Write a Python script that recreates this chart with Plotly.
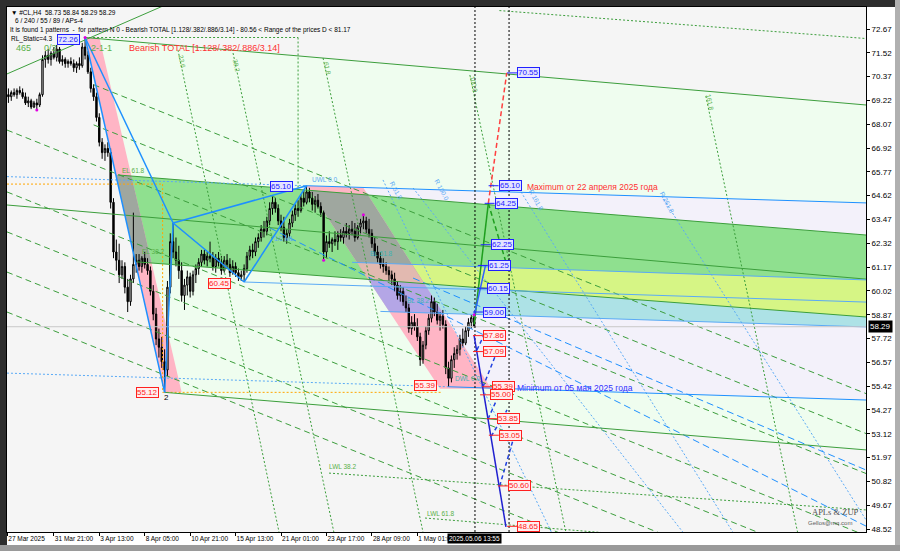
import plotly.graph_objects as go

# ---------------- candles (H4 bars, index 0 = first visible bar) ----------------
O = [69.5,69.4,69.6,69.5,69.7,69.6,69.4,69.1,69.2,68.9,
     69.1,69.0,69.5,71.2,71.4,71.2,71.5,71.3,71.7,71.1,
     71.2,71.0,71.1,71.0,70.8,71.0,70.9,71.8,71.4,70.6,
     69.8,69.4,68.4,67.2,66.7,66.9,66.7,64.3,61.9,61.5,
     60.8,61.2,60.2,59.5,60.6,61.3,61.5,61.2,61.6,61.3,
     61.0,60.0,58.9,57.7,57.3,56.6,56.2,60.2,62.4,61.9,
     61.5,61.0,59.8,60.3,60.7,60.0,60.8,61.1,61.4,61.8,
     61.5,61.7,61.6,61.2,61.6,61.4,61.0,61.5,61.3,60.9,
     61.2,60.9,60.7,60.8,61.1,61.7,62.0,61.9,62.4,62.6,
     63.0,62.9,63.4,64.0,64.3,64.0,63.4,63.1,62.6,62.8,
     63.3,63.7,64.0,63.9,64.5,64.3,64.8,64.5,64.2,64.4,
     64.1,63.8,61.9,62.4,62.3,62.5,62.4,62.7,62.6,62.9,
     62.8,63.0,62.9,62.6,63.1,63.3,63.4,63.0,62.8,62.3,
     61.9,61.6,61.3,61.2,61.0,60.8,60.6,60.3,59.8,60.0,
     59.5,59.2,58.2,58.5,58.3,57.8,56.7,57.4,58.1,58.7,
     59.5,59.0,58.6,58.8,58.4,56.3,55.8,56.7,57.0,57.2,
     57.7,57.5,58.1,58.5,58.73]
H = [69.8,69.7,69.8,69.8,69.9,69.8,69.6,69.4,69.3,69.2,
     69.3,69.6,71.4,71.6,71.7,71.6,71.8,71.9,71.8,71.4,
     71.3,71.2,71.3,71.2,71.1,71.3,72.0,72.26,71.6,70.8,
     70.0,69.6,68.6,67.4,67.1,67.2,66.9,64.5,62.5,62.3,
     61.5,61.4,60.6,60.8,63.8,61.8,61.8,61.7,61.9,61.6,
     61.2,60.3,59.2,58.2,57.8,57.2,60.5,62.8,63.3,62.6,
     62.2,61.4,60.6,61.0,60.9,61.0,61.3,61.6,62.0,62.0,
     61.9,62.4,61.9,61.8,61.9,61.7,61.7,61.8,61.6,61.5,
     61.4,61.1,61.0,61.3,61.9,62.2,62.3,62.6,62.8,63.2,
     63.4,63.6,64.3,64.6,64.5,64.2,63.7,63.6,63.0,63.5,
     63.9,64.2,64.4,64.7,64.9,65.10,65.0,64.8,64.6,64.7,
     64.3,63.9,62.7,62.9,62.6,62.9,62.9,63.0,63.1,63.3,
     63.2,63.4,63.3,63.2,63.5,63.7,63.6,63.5,63.0,62.6,
     62.2,61.9,61.6,61.4,61.2,61.0,60.9,60.5,60.3,60.2,
     59.8,59.4,58.8,58.9,58.7,58.0,57.6,58.3,58.9,59.8,
     59.7,59.4,59.0,59.1,58.6,56.6,56.9,57.3,57.4,57.9,
     58.2,58.3,58.7,58.87,58.84]
L = [69.1,69.2,69.4,69.3,69.5,69.3,69.0,68.9,68.8,68.85,
     68.76,68.9,69.4,70.8,71.0,70.9,71.2,71.1,71.0,70.9,
     70.8,70.8,70.9,70.6,70.55,70.7,70.8,71.2,70.5,69.6,
     69.2,68.2,67.0,66.4,66.3,66.5,64.0,61.6,61.0,60.4,
     60.6,59.9,59.0,59.3,60.4,60.9,61.0,60.9,61.1,60.8,
     59.8,58.6,57.4,56.8,56.3,55.12,55.9,59.9,61.6,61.2,
     60.6,59.5,59.1,59.8,59.7,59.8,60.4,60.8,61.2,61.3,
     61.2,61.4,61.0,60.9,61.2,60.8,60.9,61.1,60.7,60.8,
     60.7,60.5,60.5,60.45,60.9,61.5,61.6,61.7,62.1,62.4,
     62.6,62.7,63.2,63.7,63.8,63.2,62.9,62.4,62.3,62.6,
     63.1,63.4,63.6,63.8,64.1,64.2,64.3,63.9,63.8,64.0,
     63.6,61.5,61.6,62.1,61.9,62.2,62.0,62.4,62.3,62.6,
     62.5,62.7,62.4,62.5,62.8,63.0,62.8,62.6,62.1,61.7,
     61.4,61.1,60.9,60.8,60.5,60.3,60.0,59.6,59.5,59.3,
     59.0,58.0,57.9,58.1,57.6,56.4,56.5,57.2,57.9,58.5,
     58.8,58.4,58.1,58.2,56.0,55.39,55.6,56.3,56.7,56.9,
     57.3,57.4,57.8,58.2,58.29]
C = [69.4,69.6,69.5,69.7,69.6,69.4,69.1,69.2,68.9,69.1,
     69.0,69.5,71.2,71.4,71.2,71.5,71.3,71.7,71.1,71.2,
     71.0,71.1,71.0,70.8,71.0,70.9,71.8,71.4,70.6,69.8,
     69.4,68.4,67.2,66.7,66.9,66.7,64.3,61.9,61.5,60.8,
     61.2,60.2,59.5,60.6,61.3,61.5,61.2,61.6,61.3,61.0,
     60.0,58.9,57.7,57.3,56.6,56.2,60.2,62.4,61.9,61.5,
     61.0,59.8,60.3,60.7,60.0,60.8,61.1,61.4,61.8,61.5,
     61.7,61.6,61.2,61.6,61.4,61.0,61.5,61.3,60.9,61.2,
     60.9,60.7,60.8,61.1,61.7,62.0,61.9,62.4,62.6,63.0,
     62.9,63.4,64.0,64.3,64.0,63.4,63.1,62.6,62.8,63.3,
     63.7,64.0,63.9,64.5,64.3,64.8,64.5,64.2,64.4,64.1,
     63.8,61.9,62.4,62.3,62.5,62.4,62.7,62.6,62.9,62.8,
     63.0,62.9,62.6,63.1,63.3,63.4,63.0,62.8,62.3,61.9,
     61.6,61.3,61.2,61.0,60.8,60.6,60.3,59.8,60.0,59.5,
     59.2,58.2,58.5,58.3,57.8,56.7,57.4,58.1,58.7,59.5,
     59.0,58.6,58.8,58.4,56.3,55.8,56.7,57.0,57.2,57.7,
     57.5,58.1,58.5,58.73,58.29]
BARS = list(range(len(C)))

# ---------------- axes ----------------
x_tick_bars = [-0.4, 16, 32, 48, 64, 80, 96, 112, 128, 144]
x_tick_text = ["27 Mar 2025", "31 Mar 21:00", "3 Apr 13:00", "8 Apr 05:00", "10 Apr 21:00",
               "15 Apr 13:00", "21 Apr 01:00", "23 Apr 17:00", "28 Apr 09:00", "1 May 01:00"]
y_tick_vals = [72.67, 71.52, 70.37, 69.22, 68.07, 66.92, 65.77, 64.62, 63.47, 62.32, 61.17,
               60.02, 58.87, 57.72, 56.57, 55.42, 54.27, 53.12, 51.97, 50.82, 49.67, 48.52]
X_RANGE = [-0.5, 302]
Y_RANGE = [48.375, 73.733]
CUR_PRICE = 58.29
CUR_BAR = 164.3
CUR_TIME = "2025.05.06 13:55"

# ---------------- pattern points X A B C D (bar, price) ----------------
pat_bars = [27, 55, 58, 83, 105]
pat_prices = [72.26, 55.12, 63.30, 60.45, 65.10]

# ---------------- trend / channel lines: ((bar0, price0), (bar1, price1)) ----------------
G1 = ((-0.5, 70.50), (54.4, 73.78))
G2 = ((27, 72.26), (302, 69.0))
G3 = ((-0.5, 64.17), (302, 60.59))
G4 = ((38.6, 65.62), (302, 62.72))
G5 = ((45.3, 61.42), (302, 58.76))
G6 = ((55, 55.12), (302, 52.34))
Y1 = ((121, 61.40), (302, 60.55))
CB = ((131, 59.03), (302, 58.28))
CL = ((83, 60.45), (302, 59.48))
B65_dot = ((-0.5, 65.54), (105, 65.10))
B65 = ((105, 65.10), (302, 64.27))
MIN_dot = ((-0.5, 56.05), (155, 55.39))
MINL = ((155, 55.39), (302, 54.75))

XA_channel = [(27, 72.26), (32, 72.26), (61, 55.12), (55, 55.12)]
D_channel = [(105, 65.10), (125, 65.0), (170, 55.3), (152, 55.3)]
pale_green_zone = [(27, 72.26), (302, 69.0), (302, 52.34), (55, 55.12)]
lavender_zone = [(105, 65.10), (302, 64.27), (302, 54.75), (152, 55.4)]

green_dashed = [((30, 69.98), (302, 55.06)), ((30, 68.04), (302, 53.13)),
                ((-0.5, 67.79), (302, 51.20)), ((-0.5, 64.80), (302, 48.20)),
                ((-0.5, 62.87), (302, 46.27)), ((-0.5, 60.93), (302, 44.34)),
                ((-0.5, 59.00), (302, 42.41))]
fib_time_lines = [((59.7, 71.66), (95.3, 48.37)), ((79.1, 71.51), (114.6, 48.37)),
                  ((110.8, 71.27), (146.0, 48.37)), ((162.5, 70.45), (196.3, 48.37)),
                  ((245.6, 69.43), (277.9, 48.37))]
fib_time_names = ["23.6", "38.2", "61.8", "100.0", "161.8"]
fib_time_lbl = [(61.1, 71.08), (80.5, 70.93), (112.2, 70.79), (163.9, 69.97), (247.0, 69.10)]
green_dotted = [((27, 72.26), (102, 72.26)), ((102, 72.26), (102, 64.9)),
                ((172.9, 73.56), (302, 72.21)), ((112.9, 51.22), (302, 49.44)),
                ((146.7, 49.05), (302, 47.3))]
blue_dotted = [((131.9, 65.38), (191.2, 48.37)), ((142.5, 64.99), (237.5, 48.37)),
               ((180.5, 64.80), (255.1, 48.37)), ((230.1, 64.60), (302, 48.96))]
blue_dashed = [((92.1, 63.06), (302, 48.66)), ((142.5, 60.64), (302, 51.37))]
orange_dotted = [((-0.5, 65.18), (54.3, 65.18)), ((54.3, 65.18), (54.3, 55.12)),
                 ((54.3, 55.12), (152.3, 55.12))]

# ---------------- projection (right side) ----------------
proj_red = [(169, 64.25), (175.5, 70.55)]
proj_green = [(164, 58.4), (169, 64.25)]
proj_green_dash = [(169, 64.25), (175, 61.5)]
proj_blue_up = [(164, 58.8), (168, 61.25)]
proj_blue_down = [(164, 57.86), (175.2, 48.62)]
proj_zigzag = [((165, 57.17), (167.8, 57.99)), ((167.1, 55.38), (171.3, 56.83)),
               ((168.9, 53.83), (173.8, 55.33)), ((170.0, 53.0), (175.6, 54.27)),
               ((173, 50.6), (177.7, 52.82))]
blue_lbl_vals = [70.55, 65.10, 64.25, 62.25, 61.25, 60.15, 59.00]
blue_lbl_bars = [179.1, 172.6, 171.2, 169.8, 168.8, 168.5, 167.1]
red_lbl_vals = [57.86, 57.09, 55.39, 55.00, 53.85, 53.05, 50.60, 48.65]
red_lbl_bars = [167.1, 167.1, 170.3, 169.6, 172.0, 172.7, 175.9, 179.1]
fractal_bars = [10, 27, 111, 125, 164]
fractal_prices = [68.76, 72.26, 61.5, 63.7, 58.87]

# ---------------- colours ----------------
BLUE = "#1e90ff"
LBLUE = "#5aaaf5"
GREEN = "#3c9e3c"
PINK = "#ffb5c5"

def at(line, b):
    (b0, p0), (b1, p1) = line
    return p0 + (p1 - p0) * (b - b0) / (b1 - b0)

def clip_half(poly, a, b, ref):
    def s(p):
        return (b[0] - a[0]) * (p[1] - a[1]) - (b[1] - a[1]) * (p[0] - a[0])
    sr = 1 if s(ref) >= 0 else -1
    out = []
    n = len(poly)
    for k in range(n):
        P, Q = poly[k], poly[(k + 1) % n]
        sp, sq = s(P) * sr, s(Q) * sr
        if sp >= 0:
            out.append(P)
        if (sp >= 0) != (sq >= 0):
            t = s(P) / (s(P) - s(Q))
            out.append((P[0] + t * (Q[0] - P[0]), P[1] + t * (Q[1] - P[1])))
    return out

def clip_convex(poly, clipper):
    cx = sum(p[0] for p in clipper) / len(clipper)
    cy = sum(p[1] for p in clipper) / len(clipper)
    for k in range(len(clipper)):
        if not poly:
            break
        poly = clip_half(poly, clipper[k], clipper[(k + 1) % len(clipper)], (cx, cy))
    return poly

fig = go.Figure()
shapes = []

def fill(poly, color):
    # filled zones are drawn as data-referenced path shapes under the candles
    if not poly:
        return
    path = "M " + " L ".join(f"{p[0]:.4f},{p[1]:.4f}" for p in poly) + " Z"
    shapes.append(dict(type="path", xref="x", yref="y", path=path, fillcolor=color,
                       line=dict(width=0), layer="below"))

def seg(pts, color, width=1, dash="solid"):
    fig.add_trace(go.Scatter(x=[p[0] for p in pts], y=[p[1] for p in pts], mode="lines",
                             line=dict(color=color, width=width, dash=dash), hoverinfo="skip"))

# bands
band_raw = [(20, at(G4, 20)), (302, at(G4, 302)), (302, at(G5, 302)), (20, at(G5, 20))]
XA_pt, A_pt = (pat_bars[0], pat_prices[0]), (pat_bars[1], pat_prices[1])
band_green = clip_half(band_raw, XA_pt, A_pt, (302, 60))
D_pt, D_bl = D_channel[0], D_channel[3]
yellow_raw = [(100, at(Y1, 100)), (302, at(Y1, 302)), (302, at(G5, 302)), (100, at(G5, 100))]
cyan_raw = [(100, at(G5, 100)), (302, at(G5, 302)), (302, at(CB, 302)), (100, at(CB, 100))]
yellow = clip_half(yellow_raw, D_pt, D_bl, (302, 60))
cyan = clip_half(cyan_raw, D_pt, D_bl, (302, 60))

fill(pale_green_zone, "#effdef")
fill(lavender_zone, "#f3f1fa")
fill(band_green, "#8fe08f")
fill(yellow, "#d6f585")
fill(cyan, "#ade2e6")
fill(XA_channel, PINK)
fill(D_channel, PINK)
fill(clip_convex(band_raw, XA_channel), "#9fa79f")
fill(clip_convex(band_green, D_channel), "#9fa79f")
fill(clip_convex(yellow, D_channel), "#e2b9b0")
fill(clip_convex(cyan, D_channel), "#b4a6e6")

# auxiliary lines
for ln in green_dashed:
    seg(ln, GREEN, 1, "6px,4px")
for ln in fib_time_lines:
    seg(ln, GREEN, 1, "2px,2px")
for ln in green_dotted:
    seg(ln, GREEN, 1, "2px,2px")
for ln in blue_dotted:
    seg(ln, LBLUE, 1, "2px,2px")
for ln in blue_dashed:
    seg(ln, BLUE, 1, "7px,4px")
for ln in orange_dotted:
    seg(ln, "#ffa500", 1, "2px,2px")
for ln in (G1, G2, G3, G4, G5, G6):
    seg(ln, GREEN, 1)
for ln in (Y1, CB, CL):
    seg(ln, LBLUE, 1)
seg(B65_dot, LBLUE, 1, "2px,2px")
seg(B65, BLUE, 1)
seg(MIN_dot, LBLUE, 1, "2px,2px")
seg(MINL, BLUE, 1)
seg([(X_RANGE[0], CUR_PRICE), (X_RANGE[1], CUR_PRICE)], "#c8c8c8", 1)
for vb in (CUR_BAR, 176.3):
    seg([(vb, Y_RANGE[0]), (vb, Y_RANGE[1])], "#000000", 1, "2px,2px")

# candles
fig.add_trace(go.Candlestick(
    x=BARS, open=O, high=H, low=L, close=C,
    increasing=dict(line=dict(color="#000000", width=1), fillcolor="#e4e4e4"),
    decreasing=dict(line=dict(color="#000000", width=1), fillcolor="#000000"),
    whiskerwidth=0, hoverinfo="skip"))

# pattern lines
P = list(zip(pat_bars, pat_prices))
for a, b in [(0, 1), (1, 2), (2, 3), (3, 4), (0, 2), (2, 4)]:
    seg([P[a], P[b]], BLUE, 1.5)

# projections
seg(proj_red, "#ff4040", 1.5, "5px,3px")
seg(proj_green, "#1e9e1e", 1.5)
seg(proj_green_dash, "#1e9e1e", 1.5, "5px,3px")
seg(proj_blue_up, "#3060ff", 1.5)
seg(proj_blue_down, "#2020d0", 1.5)
for ln in proj_zigzag:
    seg(ln, "#2040e0", 1.5, "4px,3px")

ann = []

def box(xb, yp, text, color, bg, anchor="left"):
    ann.append(dict(x=xb, y=yp, xref="x", yref="y", text=text, showarrow=False,
                    xanchor=anchor, yanchor="middle", font=dict(size=8, color=color,
                    family="Liberation Sans, Arial"), bgcolor=bg, bordercolor=color,
                    borderwidth=1, borderpad=0))

for v, b in zip(blue_lbl_vals, blue_lbl_bars):
    seg([(b - 3.5, v), (b, v)], "#2020ff", 1)
    box(b, v, f"{v:.2f}", "#2020ff", "#e4e4ff")
for v, b in zip(red_lbl_vals, red_lbl_bars):
    seg([(b - 3.5, v), (b, v)], "#ff2020", 1)
    box(b, v, f"{v:.2f}", "#ff2020", "#ffeeee")

fig.add_trace(go.Scatter(x=fractal_bars, y=fractal_prices, mode="markers",
                         marker=dict(color="#e000e0", size=3), hoverinfo="skip"))

# pattern labels
box(25.3, 72.14, "72.26", "#2020ff", "#e4e4ff", "right")
box(100.2, 65.04, "65.10", "#2020ff", "#e4e4ff", "right")
box(78.4, 60.40, "60.45", "#ff2020", "#ffeeee", "right")
box(52.9, 55.09, "55.12", "#ff2020", "#ffeeee", "right")
box(150.9, 55.43, "55.39", "#ff2020", "#ffeeee", "right")

def txt(xb, yp, text, color, size=7, angle=0, family="Liberation Sans, Arial", anchor="left"):
    ann.append(dict(x=xb, y=yp, xref="x", yref="y", text=text, showarrow=False,
                    xanchor=anchor, yanchor="middle", textangle=angle,
                    font=dict(size=size, color=color, family=family)))

txt(55.5, 54.85, "2", "#000000", 8, anchor="center")
txt(181.9, 65.04, "Maximum от 22 апреля 2025 года", "#ff3030", 8.5)
txt(178.4, 55.33, "Minimum от 05 мая 2025 года", "#3030ff", 8.5)
txt(39.3, 65.86, "EL 61.8", "#58b048", 6.5)
txt(46.3, 61.90, "EL 38.2", "#58b048", 6.5)
txt(106.2, 65.38, "UWL 0.0", "#5aaaf5", 6.5)
txt(92.8, 62.55, "1/2 ML", "#5aaaf5", 6.5)
txt(156.5, 55.81, "DWL 0.0", "#3cb4b4", 6.5)
txt(126.5, 61.85, "BL 61.8", "#3cb4b4", 6.5)
txt(139.5, 59.55, "BL 38.2", "#3cb4b4", 6.5)
txt(112.2, 51.56, "LWL 38.2", "#58b048", 6.5)
txt(146.7, 49.25, "LWL 61.8", "#58b048", 6.5)
for name, (xb, yp) in zip(fib_time_names, fib_time_lbl):
    txt(xb, yp, name, "#58b048", 6.5, angle=78, anchor="center")
txt(186.1, 64.41, "R 161.8", "#5aaaf5", 6.5, angle=62, anchor="center")
txt(231.9, 64.27, "R 261.8", "#5aaaf5", 6.5, angle=62, anchor="center")
txt(136.5, 64.85, "R 61.8", "#5aaaf5", 6.5, angle=62, anchor="center")
txt(152.5, 64.90, "R 100.0", "#5aaaf5", 6.5, angle=62, anchor="center")

# paper texts (positions in pixels of the 900x551 window)
def pxx(px):
    return (px - 7) / 859.0

def pxy(py):
    return (532 - py) / 525.0

def ptxt(px, py, text, color, size, family="Liberation Sans, Arial"):
    ann.append(dict(x=pxx(px), y=pxy(py), xref="paper", yref="paper", text=text,
                    showarrow=False, xanchor="left", yanchor="middle",
                    font=dict(size=size, color=color, family=family)))

ptxt(9, 12.5, "▼ #CL,H4  58.73 58.84 58.29 58.29", "#000000", 6.5)
ptxt(13, 21, "6 / 240 / 55 / 89 / APs-4", "#000000", 6.5)
ptxt(8, 30, "It is found 1 patterns  -  for pattern N 0 - Bearish TOTAL [1.128/.382/.886/3.14] - 80.56 < Range of the prices D < 81.17", "#000000", 6.5)
ptxt(9, 39, "RL_Static=4.3", "#000000", 6.5)
ptxt(14, 48, "465", "#58b048", 9)
ptxt(42, 48, "0/3", "#58b048", 9)
ptxt(89, 48, "2-1-1", "#58b048", 9)
ptxt(127, 48, "Bearish TOTAL [1.128/.382/.886/3.14]", "#ff3030", 9)
ptxt(810, 512, "APLs & ZUP", "#505050", 8.5, "Liberation Serif, serif")
ptxt(806, 523, "Gellos@mq.com", "#606060", 6)

ann.append(dict(x=CUR_BAR, y=0, xref="x", yref="paper", text=CUR_TIME, showarrow=False,
                xanchor="center", yanchor="top", yshift=-1, bgcolor="#000000",
                font=dict(size=6.5, color="#ffffff", family="Liberation Sans, Arial"),
                borderpad=1))
ann.append(dict(x=1, y=CUR_PRICE, xref="paper", yref="y", text=f"{CUR_PRICE:.2f}",
                showarrow=False, xanchor="left", yanchor="middle", xshift=2,
                bgcolor="#000000", font=dict(size=8, color="#ffffff",
                family="Liberation Sans, Arial"), borderpad=1))

shapes += [
    dict(type="rect", xref="paper", yref="paper", x0=pxx(866), x1=pxx(895), y0=pxy(545), y1=pxy(7),
         fillcolor="#ffffff", line=dict(width=0), layer="below"),
    dict(type="rect", xref="paper", yref="paper", x0=pxx(7), x1=pxx(866), y0=pxy(545), y1=pxy(532),
         fillcolor="#ffffff", line=dict(width=0), layer="below"),
    dict(type="rect", xref="paper", yref="paper", x0=pxx(895), x1=pxx(901), y0=pxy(552), y1=pxy(-1),
         fillcolor="#b0b0b0", line=dict(width=0), layer="below"),
    dict(type="rect", xref="paper", yref="paper", x0=pxx(-1), x1=pxx(901), y0=pxy(552), y1=pxy(545),
         fillcolor="#9a9a9a", line=dict(width=0), layer="below"),
]

fig.update_layout(
    width=900, height=551,
    margin=dict(l=7, r=34, t=7, b=19, autoexpand=False),
    paper_bgcolor="#2e2e2e",
    plot_bgcolor="#f5f5f5",
    showlegend=False,
    hovermode=False,
    annotations=ann,
    shapes=shapes,
    xaxis=dict(range=X_RANGE, tickmode="array", tickvals=x_tick_bars, ticktext=x_tick_text,
               ticks="outside", ticklen=3, tickcolor="#000000", showgrid=False, zeroline=False,
               showline=True, linecolor="#000000", linewidth=1, mirror=True, automargin=False,
               tickangle=0, ticklabelposition="outside right", rangeslider=dict(visible=False),
               tickfont=dict(size=6.5, color="#000000", family="Liberation Sans, Arial")),
    yaxis=dict(range=Y_RANGE, side="right", tickmode="array", tickvals=y_tick_vals,
               ticktext=[f"{v:.2f}" for v in y_tick_vals], ticks="outside", ticklen=3,
               tickcolor="#000000", showgrid=False, zeroline=False, showline=True,
               linecolor="#000000", linewidth=1, mirror=True, automargin=False,
               tickfont=dict(size=8, color="#000000", family="Liberation Sans, Arial")),
)

fig.write_html("out.html", config={"displayModeBar": False},
               post_script="document.body.style.margin='0px';document.body.style.overflow='hidden';")
